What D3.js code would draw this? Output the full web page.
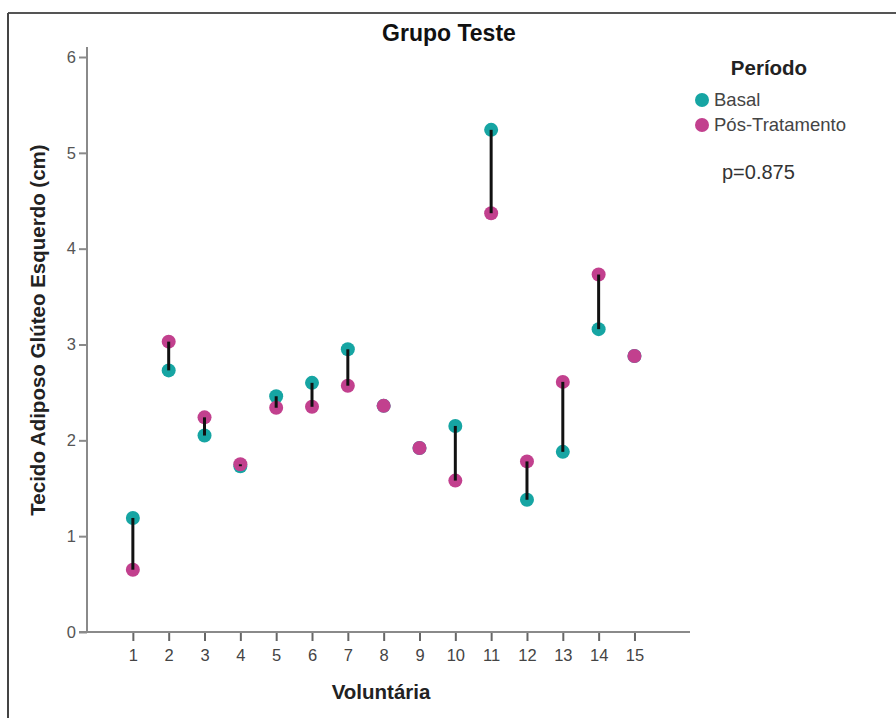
<!DOCTYPE html>
<html><head><meta charset="utf-8">
<script src="https://cdn.jsdelivr.net/npm/d3@7"></script>
<style>body{margin:0;background:#fff}svg{display:block}</style>
</head><body>
<svg id="c" width="896" height="718"></svg>
<script>
const voluntarias = [1,2,3,4,5,6,7,8,9,10,11,12,13,14,15];
const basal = [1.19,2.73,2.05,1.73,2.46,2.60,2.95,2.36,1.92,2.15,5.24,1.38,1.88,3.16,2.88];
const posTratamento = [0.65,3.03,2.24,1.75,2.34,2.35,2.57,2.36,1.92,1.58,4.37,1.78,2.61,3.73,2.88];
const yTicks = [0,1,2,3,4,5,6];
const seriesNames = ["Basal","Pós-Tratamento"];
const seriesColors = ["#16a5a3","#c2408e"];

const FONT = "Liberation Sans, Arial, sans-serif";
const svg = d3.select("#c");
// frame
svg.append("line").attr("x1",8).attr("x2",896).attr("y1",13).attr("y2",13).attr("stroke","#555").attr("stroke-width",2);
svg.append("line").attr("x1",8).attr("x2",8).attr("y1",13).attr("y2",718).attr("stroke","#444").attr("stroke-width",2);

const x = d3.scaleLinear().domain([-0.28,16.55]).range([87,690]);
const y = d3.scaleLinear().domain([0,6]).range([632,57]);

const axisColor = "#8a8a8a";
// y axis
const gy = svg.append("g").attr("transform","translate(87,0)")
  .call(d3.axisLeft(y).tickValues(yTicks).tickSize(8).tickPadding(3).tickFormat(d3.format("d")));
gy.select(".domain").remove();
gy.append("line").attr("x1",0).attr("x2",0).attr("y1",y(0)).attr("y2",47).attr("stroke",axisColor).attr("stroke-width",2);
gy.selectAll(".tick line").attr("stroke",axisColor).attr("stroke-width",2);
gy.selectAll(".tick text").attr("fill","#555").style("font-family",FONT).style("font-size","16.5px");

// x axis
const gx = svg.append("g").attr("transform",`translate(0,${y(0)})`)
  .call(d3.axisBottom(x).tickValues(voluntarias).tickSize(9).tickPadding(8).tickFormat(d3.format("d")));
gx.select(".domain").remove();
gx.append("line").attr("x1",79).attr("x2",x.range()[1]).attr("y1",0).attr("y2",0).attr("stroke",axisColor).attr("stroke-width",2);
gx.selectAll(".tick line").attr("stroke","#666").attr("stroke-width",2);
gx.selectAll(".tick text").attr("fill","#444").style("font-family",FONT).style("font-size","16.5px");

// points
const rows = voluntarias.map((v,i)=>({v,b:basal[i],p:posTratamento[i]}));
svg.append("g").selectAll("circle").data(rows).join("circle")
  .attr("cx",d=>x(d.v)).attr("cy",d=>y(d.b)).attr("r",7).attr("fill",seriesColors[0]);
svg.append("g").selectAll("circle").data(rows).join("circle")
  .attr("cx",d=>x(d.v)).attr("cy",d=>y(d.p)).attr("r",7).attr("fill",seriesColors[1]);
svg.append("g").selectAll("line").data(rows).join("line")
  .attr("x1",d=>x(d.v)).attr("x2",d=>x(d.v)).attr("y1",d=>y(d.b)).attr("y2",d=>y(d.p))
  .attr("stroke","#111").attr("stroke-width",3);

// titles
svg.append("text").attr("x",449).attr("y",41).attr("text-anchor","middle")
  .style("font-family",FONT).style("font-weight","bold").style("font-size","23px").attr("fill","#111").text("Grupo Teste");
svg.append("text").attr("transform","translate(45,330) rotate(-90)").attr("text-anchor","middle")
  .style("font-family",FONT).style("font-weight","bold").style("font-size","20.5px").attr("fill","#222").text("Tecido Adiposo Glúteo Esquerdo (cm)");
svg.append("text").attr("x",381).attr("y",699).attr("text-anchor","middle")
  .style("font-family",FONT).style("font-weight","bold").style("font-size","20.5px").attr("fill","#222").text("Voluntária");

// legend
svg.append("text").attr("x",769).attr("y",75).attr("text-anchor","middle")
  .style("font-family",FONT).style("font-weight","bold").style("font-size","20.5px").attr("fill","#222").text("Período");
const lg = svg.append("g").selectAll("g").data(seriesNames).join("g")
  .attr("transform",(d,i)=>`translate(702,${100+i*25})`);
lg.append("circle").attr("r",7).attr("fill",(d,i)=>seriesColors[i]);
lg.append("text").attr("x",12).attr("y",6).style("font-family",FONT).style("font-size","18.5px").attr("fill","#444").text(d=>d);
svg.append("text").attr("x",722).attr("y",179)
  .style("font-family",FONT).style("font-size","20px").attr("fill","#333").text("p=0.875");
</script>
</body></html>
